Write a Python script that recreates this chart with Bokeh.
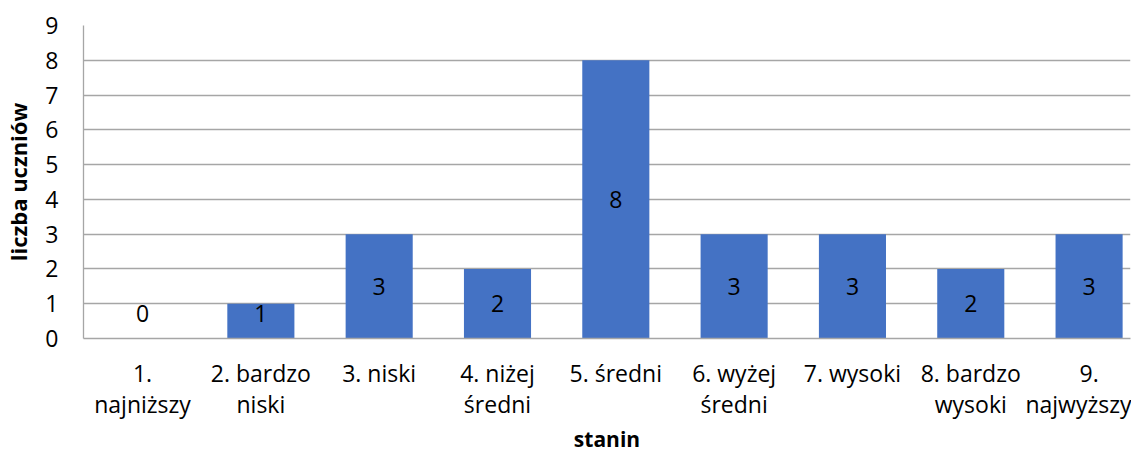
from bokeh.plotting import figure
from bokeh.models import ColumnDataSource, Range1d, FixedTicker, LinearAxis
from bokeh.core.properties import value
from bokeh.embed import file_html
from bokeh.resources import INLINE

categories = ["1.\nnajniższy", "2. bardzo\nniski", "3. niski", "4. niżej\nśredni",
              "5. średni", "6. wyżej\nśredni", "7. wysoki", "8. bardzo\nwysoki", "9.\nnajwyższy"]
counts = [0, 1, 3, 2, 8, 3, 3, 2, 3]
labels = [str(c) for c in counts]
y_ticks = [0, 1, 2, 3, 4, 5, 6, 7, 8, 9]

FONT = "Open Sans"
FS = "23px"

pos = list(range(1, len(categories) + 1))
line1 = {p_: c.split("\n")[0] for p_, c in zip(pos, categories)}
line2 = {p_: (c.split("\n")[1] if "\n" in c else "") for p_, c in zip(pos, categories)}

src = ColumnDataSource(dict(
    x=pos,
    val=counts,
    lab=labels,
    ly=[max(v / 2, 0.72) for v in counts],
))

p = figure(width=1131, height=455, output_backend="svg", toolbar_location=None,
           x_range=Range1d(0.501, 9.35), y_range=Range1d(0, 9), x_axis_type=None)
p.min_border_left = 76
p.min_border_top = 25
p.min_border_bottom = 100
p.min_border_right = 1
p.outline_line_color = None
p.background_fill_color = "white"
p.border_fill_color = "white"

p.vbar(x="x", top="val", width=0.567, source=src, color="#4472C4", line_color=None)
p.text(x="x", y="ly", text="lab", source=src, text_align="center", text_baseline="middle",
       text_font=value(FONT), text_font_size=FS, text_color="#000000")

p.xgrid.grid_line_color = None
p.ygrid.grid_line_color = "#A6A6A6"
p.ygrid.grid_line_width = 1.3
p.yaxis.ticker = FixedTicker(ticks=y_ticks)

xa = LinearAxis(ticker=FixedTicker(ticks=pos), major_label_overrides=line1)
x2 = LinearAxis(ticker=FixedTicker(ticks=pos), major_label_overrides=line2)
p.add_layout(xa, "below")
p.add_layout(x2, "below")

def style(ax):
    ax.major_tick_line_color = None
    ax.minor_tick_line_color = None
    ax.major_tick_out = 0
    ax.major_tick_in = 0
    ax.minor_tick_out = 0
    ax.minor_tick_in = 0
    ax.major_label_text_font = FONT
    ax.major_label_text_font_size = FS
    ax.major_label_text_color = "#000000"
    ax.axis_label_text_font = FONT
    ax.axis_label_text_font_style = "bold"
    ax.axis_label_text_color = "#000000"

for ax in (xa, p.yaxis[0], x2):
    style(ax)

p.yaxis.axis_line_color = "#A6A6A6"
p.yaxis.axis_line_width = 1.3
p.yaxis.axis_label = "liczba uczniów"
p.yaxis.axis_label_text_font_size = "22px"
p.yaxis.major_label_standoff = 25
p.yaxis.axis_label_standoff = 9

xa.axis_line_color = "#A6A6A6"
xa.axis_line_width = 1.3
xa.major_label_standoff = 18

x2.axis_line_color = None
x2.major_label_standoff = -4
x2.axis_label = "stanin"
x2.axis_label_text_font_size = "21px"
x2.axis_label_standoff = 2

open("out.html", "w").write(file_html(p, INLINE))
